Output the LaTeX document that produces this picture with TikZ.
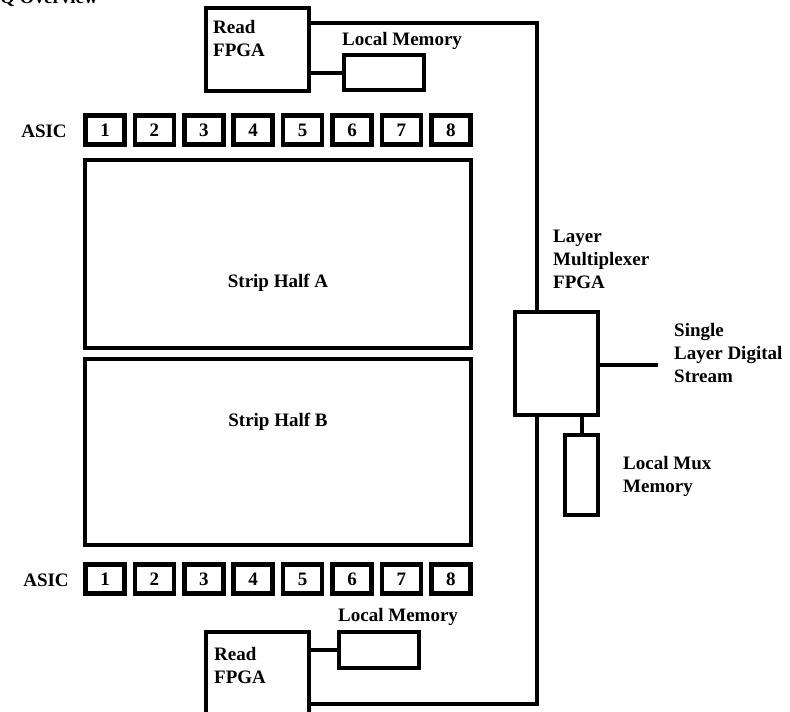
\documentclass[tikz,border=0pt]{standalone}
\usepackage{fontspec}
\setmainfont{Liberation Serif}
\begin{document}
\begin{tikzpicture}[x=1pt,y=-1pt,
  box/.style={draw,line width=4pt,inner sep=0pt,outer sep=0pt},
  asicbox/.style={box,line width=4.5pt,minimum width=39pt,minimum height=29pt,font=\fontsize{19}{23}\selectfont\bfseries},
  conn/.style={line width=4pt},
  lbl/.style={font=\fontsize{19}{23}\selectfont\bfseries,inner sep=0pt,align=left,anchor=base west}]
\useasboundingbox (0,0) rectangle (790,712);
% title (clipped at the top edge, as in the reference)
\node[lbl] (title) at (0,3) {Q Overview};
% top read FPGA
\node[box,minimum width=103pt,minimum height=83pt] (rf1) at (257.5,49.5) {};
\node[lbl] (rf1t) at (213,56) {Read\\FPGA};
\node[box,minimum width=80pt,minimum height=35pt] (lm1) at (384,72.5) {};
\node[lbl] (lm1t) at (342,45) {Local Memory};
\draw[conn] (rf1.east |- lm1.west) -- (lm1.west);
% top ASIC row
\node[lbl,anchor=center] (asicA) at (44,131) {ASIC};
\foreach \i in {1,...,8}{
  \node[asicbox] (a\i) at ({105+49.4*(\i-1)},130) {\i};
}
% strips
\node[box,minimum width=386pt,minimum height=188pt] (sa) at (278,254) {};
\node[lbl,anchor=base] (sat) at (278,287) {Strip Half A};
\node[box,minimum width=386pt,minimum height=186pt] (sb) at (278,452) {};
\node[lbl,anchor=base] (sbt) at (278,426) {Strip Half B};
% bottom ASIC row
\node[lbl,anchor=center] (asicB) at (46,580) {ASIC};
\foreach \i in {1,...,8}{
  \node[asicbox] (b\i) at ({105+49.4*(\i-1)},579) {\i};
}
% bottom read FPGA
\node[box,minimum width=103pt,minimum height=90pt] (rf2) at (257.5,677) {};
\node[lbl] (rf2t) at (214,683) {Read\\FPGA};
\node[box,minimum width=80pt,minimum height=36pt] (lm2) at (379,650) {};
\node[lbl] (lm2t) at (338,621) {Local Memory};
\draw[conn] (rf2.east |- lm2.west) -- (lm2.west);
% multiplexer
\node[box,minimum width=83pt,minimum height=103pt] (mux) at (556.5,363.5) {};
\node[lbl] (muxt) at (553,288) {Layer\\Multiplexer\\FPGA};
\node[box,minimum width=33pt,minimum height=80pt] (lmm) at (581.5,475) {};
\node[lbl] (lmmt) at (623,492) {Local Mux\\Memory};
\draw[conn] (lmm.north) -- (lmm.north |- mux.south);
\coordinate (streamEnd) at (658,365);
\draw[conn] (mux.east |- streamEnd) -- (streamEnd);
\node[lbl] (streamt) at (674,382) {Single\\Layer Digital\\Stream};
% bus lines
\coordinate (busTop) at (537,23);
\coordinate (busBot) at (537,704);
\draw[conn] (rf1.east |- busTop) -- (busTop) -- (busTop |- mux.north);
\draw[conn] (rf2.east |- busBot) -- (busBot) -- (busBot |- mux.south);
\end{tikzpicture}
\end{document}
